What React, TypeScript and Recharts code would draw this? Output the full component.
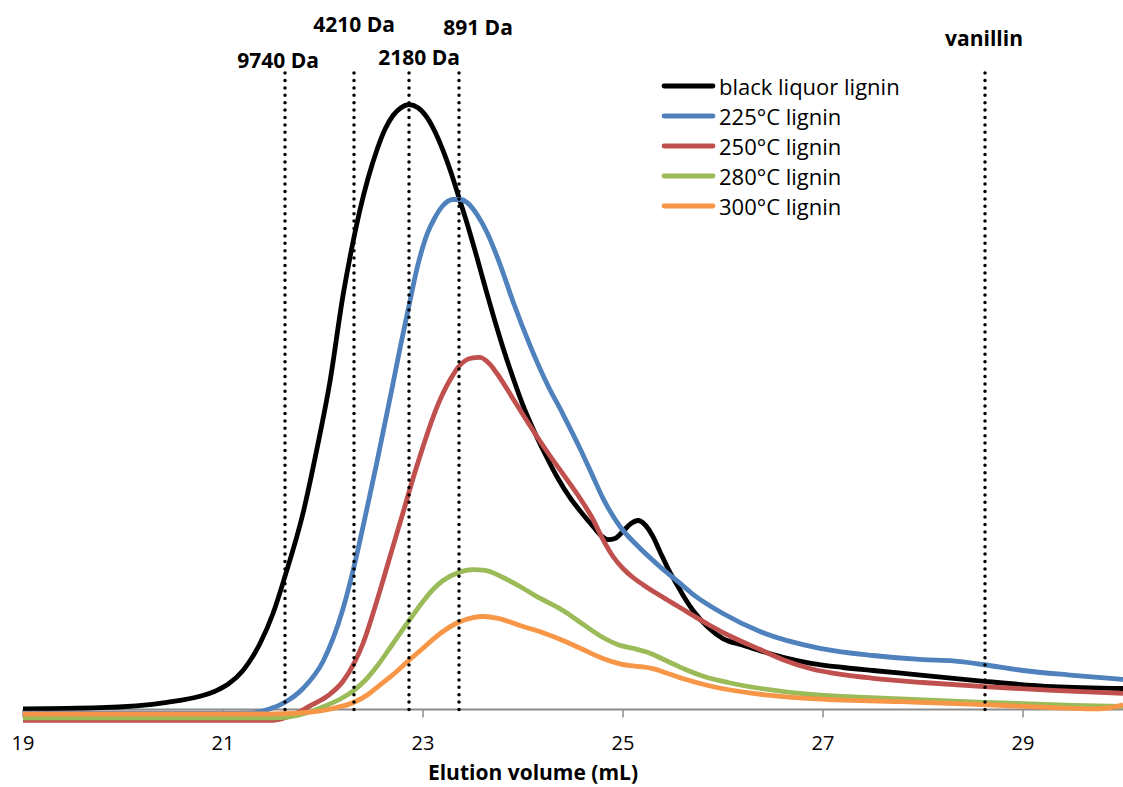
import { LineChart, Line, XAxis, YAxis, ReferenceLine, ReferenceDot, Label } from 'recharts'

// elution volume (mL) vs detector response (arbitrary units)
const blackLiquor: [number, number][] = [
  [19, 0.1], [19.77, 0.3], [20.44, 1.2], [20.77, 2.2], [20.94, 3.2], [21.05, 4.2], [21.2, 6.5],
  [21.37, 11], [21.5, 16], [21.62, 22.2], [21.8, 32.7], [21.94, 43.5], [22.07, 54.7], [22.2, 69],
  [22.31, 78.7], [22.37, 83.3], [22.45, 88.5], [22.54, 93.3], [22.62, 96.7], [22.7, 99],
  [22.78, 100.3], [22.86, 100.8], [22.95, 100.3], [23.04, 98.7], [23.12, 96.3], [23.2, 93.2],
  [23.28, 89.5], [23.36, 85.3], [23.45, 80.5], [23.54, 75.3], [23.62, 70.5], [23.7, 65.8],
  [23.8, 60.3], [23.9, 55.3], [24, 50.7], [24.1, 46.8], [24.2, 43.3], [24.35, 38.5],
  [24.47, 35.3], [24.6, 32.5], [24.7, 30.5], [24.78, 29], [24.85, 28.3], [24.92, 28.5],
  [25, 29.7], [25.08, 31], [25.15, 31.5], [25.22, 30.8], [25.3, 28.8], [25.37, 26.3],
  [25.45, 23.5], [25.54, 20.8], [25.62, 18.5], [25.7, 16.5], [25.85, 13.7], [26, 11.8],
  [26.2, 10.7], [26.37, 9.8], [26.6, 8.7], [26.88, 7.7], [27.2, 7], [27.5, 6.5], [28, 5.7],
  [28.61, 4.7], [29.3, 3.8], [30, 3.5],
]
const lignin225: [number, number][] = [
  [19, -0.6], [21, -0.6], [21.3, -0.55], [21.45, 0], [21.62, 1.2], [21.8, 3.5], [22, 8],
  [22.1, 11.8], [22.2, 16.8], [22.31, 23.8], [22.45, 34.3], [22.54, 41.3], [22.69, 53.5],
  [22.78, 61], [22.86, 67.3], [22.94, 73.5], [23.04, 79.2], [23.12, 82], [23.2, 84], [23.3, 85],
  [23.38, 85], [23.44, 84.5], [23.54, 82.5], [23.64, 79.5], [23.77, 74.2], [23.9, 68],
  [24.07, 60.7], [24.24, 54.3], [24.4, 49.2], [24.57, 43.5], [24.7, 38.8], [24.8, 35.2],
  [24.97, 30.5], [25.15, 27.2], [25.37, 23.8], [25.55, 21.3], [25.7, 19.2], [26, 16],
  [26.37, 13], [26.97, 10.2], [27.5, 9], [28, 8.3], [28.3, 8.1], [28.6, 7.5], [29, 6.5],
  [29.5, 5.7], [30, 5],
]
const lignin250: [number, number][] = [
  [19, -1.8], [21.5, -1.8], [21.7, -0.9], [21.87, 0.6], [22.05, 2.3], [22.2, 4.7], [22.31, 7.7],
  [22.4, 11], [22.5, 16], [22.6, 21.5], [22.7, 27.2], [22.8, 32.8], [22.9, 38.5], [23, 43.8],
  [23.1, 48.7], [23.2, 52.7], [23.28, 55.2], [23.36, 57.2], [23.47, 58.5], [23.57, 58.7],
  [23.66, 57.7], [23.74, 56], [23.9, 51.8], [24.07, 47.3], [24.24, 43], [24.44, 38.3],
  [24.57, 35.2], [24.7, 31.7], [24.8, 28.3], [24.9, 25.5], [25, 23.5], [25.1, 22], [25.2, 20.8],
  [25.37, 19], [25.54, 17.3], [25.87, 14], [26.1, 12], [26.37, 10], [26.6, 8.3], [26.88, 6.8],
  [27.2, 5.8], [27.5, 5.2], [28, 4.5], [28.61, 3.8], [29.3, 3.2], [30, 2.7],
]
const lignin280: [number, number][] = [
  [19, -1.4], [21.4, -1.4], [21.65, -1.25], [21.85, -0.5], [22.04, 0.7], [22.2, 2], [22.31, 3.2],
  [22.43, 5], [22.54, 7.2], [22.7, 11], [22.86, 14.8], [23, 18], [23.1, 20], [23.2, 21.5],
  [23.35, 22.8], [23.5, 23.3], [23.62, 23.2], [23.8, 22], [23.97, 20.5], [24.14, 18.8],
  [24.4, 16.5], [24.6, 14.2], [24.8, 12], [24.95, 10.8], [25.1, 10.2], [25.25, 9.5], [25.45, 8],
  [25.62, 6.7], [25.81, 5.5], [26.05, 4.5], [26.38, 3.5], [26.88, 2.5], [27.3, 2.1],
  [27.77, 1.75], [28.61, 1.2], [29.5, 0.7], [30, 0.5],
]
const lignin300: [number, number][] = [
  [19, -0.75], [21.5, -0.75], [21.9, -0.4], [22.1, 0.17], [22.31, 1.2], [22.45, 2.5], [22.54, 3.7],
  [22.7, 5.8], [22.86, 8.2], [23, 10.2], [23.1, 11.7], [23.2, 13], [23.35, 14.5], [23.5, 15.3],
  [23.6, 15.5], [23.75, 15.2], [23.97, 14], [24.2, 12.8], [24.4, 11.5], [24.6, 10], [24.8, 8.5],
  [24.95, 7.7], [25.07, 7.3], [25.2, 7.1], [25.3, 6.8], [25.45, 6], [25.63, 5], [25.85, 4],
  [26.17, 3], [26.5, 2.3], [26.88, 1.8], [27.77, 1.3], [28.61, 0.8], [29.3, 0.3], [29.7, 0.1],
  [29.85, 0.25], [30, 0.8],
]

const seriesNames = ['black liquor lignin', '225°C lignin', '250°C lignin', '280°C lignin', '300°C lignin']
const seriesData = [blackLiquor, lignin225, lignin250, lignin280, lignin300]
const COLORS = ['#000000', '#4F81BD', '#C0504D', '#9BBB59', '#F79646']

const xTicks = [19, 21, 23, 25, 27, 29]

// calibration markers
const markerVolumes = [21.62, 22.31, 22.86, 23.36, 28.62]
const markerLabels = ['9740 Da', '4210 Da', '2180 Da', '891 Da', 'vanillin']
const labelAnchors: [number, number][] = [[21.55, 108.2], [22.31, 114.2], [22.96, 108.7], [23.55, 113.7], [28.61, 111.9]]
const MARKER_TOP = 107

const FONT = '"Open Sans", Carlito, sans-serif'

function LegendBox() {
  return (
    <div style={{ position: 'absolute', left: 660, top: 71, fontFamily: FONT, fontSize: 22, color: '#000' }}>
      {seriesNames.map((name, i) => (
        <div key={name} style={{ display: 'flex', alignItems: 'center', height: 30.1 }}>
          <svg width={57} height={10}>
            <line x1={4} y1={5} x2={53} y2={5} stroke={COLORS[i]} strokeWidth={4.8} strokeLinecap="round" />
          </svg>
          <span style={{ marginLeft: 2, lineHeight: 1 }}>{name}</span>
        </div>
      ))}
    </div>
  )
}

export default function App() {
  return (
    <div style={{ position: 'absolute', left: 0, top: 0, width: 1123, height: 787, background: '#fff' }}>
      <LineChart width={1123} height={787} margin={{ top: 7.5, right: 0, bottom: 29.5, left: 23 }}>
        <XAxis
          type="number"
          dataKey="v"
          domain={[19, 30]}
          ticks={xTicks}
          allowDuplicatedCategory={false}
          axisLine={false}
          tickLine={false}
          tickSize={6.5}
          tickMargin={2}
          height={30}
          tick={{ fontSize: 20, fill: '#000', fontFamily: FONT }}
        >
          <Label
            value="Elution volume (mL)"
            position="bottom"
            offset={7.5}
            dx={-40}
            style={{ fontFamily: FONT, fontSize: 21, fontWeight: 700, fill: '#000' }}
          />
        </XAxis>
        <YAxis hide type="number" domain={[-3, 117]} allowDataOverflow />

        {/* axis line and tick marks */}
        <ReferenceLine y={0} stroke="#8c8c8c" strokeWidth={2} />
        {xTicks.map((t) => (
          <ReferenceLine key={t} segment={[{ x: t, y: 0 }, { x: t, y: -1.35 }]} stroke="#8c8c8c" strokeWidth={1.5} />
        ))}

        {seriesData.map((d, i) => (
          <Line
            key={seriesNames[i]}
            name={seriesNames[i]}
            data={d.map(([v, y]) => ({ v, y }))}
            dataKey="y"
            type="monotone"
            stroke={COLORS[i]}
            strokeWidth={4.8}
            dot={false}
            activeDot={false}
            isAnimationActive={false}
          />
        ))}

        {markerVolumes.map((m) => (
          <ReferenceLine
            key={m}
            segment={[{ x: m, y: 0 }, { x: m, y: MARKER_TOP }]}
            stroke="#000"
            strokeWidth={3.5}
            strokeDasharray="0 7.4"
            strokeLinecap="round"
          />
        ))}
        {markerLabels.map((lab, i) => (
          <ReferenceDot
            key={lab}
            x={labelAnchors[i][0]}
            y={labelAnchors[i][1]}
            r={0}
            stroke="none"
            fill="none"
            label={{ value: lab, position: 'center', fill: '#000', fontSize: 21, fontWeight: 700, fontFamily: FONT }}
          />
        ))}
      </LineChart>
      <LegendBox />
    </div>
  )
}
